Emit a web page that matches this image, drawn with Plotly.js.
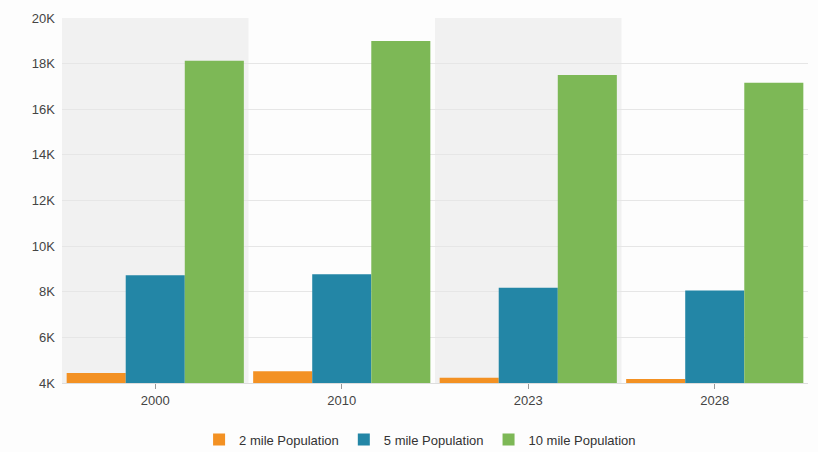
<!DOCTYPE html>
<html><head><meta charset="utf-8">
<script src="https://cdn.plot.ly/plotly-3.0.1.min.js"></script>
<style>html,body{margin:0;padding:0;background:#fdfdfd;}</style>
</head><body>
<div id="chart" style="width:818px;height:452px;"></div>
<script>
const categories = ["2000", "2010", "2023", "2028"];
const pop2mile = [4440, 4510, 4230, 4170];
const pop5mile = [8720, 8770, 8180, 8050];
const pop10mile = [18130, 18990, 17500, 17160];
const seriesNames = ["2 mile Population", "5 mile Population", "10 mile Population"];
const yTickVals = [4000, 6000, 8000, 10000, 12000, 14000, 16000, 18000, 20000];
const yTickText = ["4K", "6K", "8K", "10K", "12K", "14K", "16K", "18K", "20K"];
const colors = ["#F39123", "#2386A6", "#7DB856"];

const vals = [pop2mile, pop5mile, pop10mile];
const traces = vals.map((v, i) => ({
  type: "bar", x: categories, y: v, name: seriesNames[i],
  marker: {color: colors[i], line: {width: 0}},
  hoverinfo: "y+name"
}));

const shapes = categories.map((c, i) => i % 2 === 0 ? ({
  type: "rect", xref: "x", yref: "paper", x0: i - 0.5, x1: i + 0.5, y0: 0, y1: 1,
  fillcolor: "#f1f1f1", line: {width: 0}, layer: "below"
}) : null).filter(Boolean);

const layout = {
  width: 818, height: 452,
  margin: {l: 62, r: 10, t: 18, b: 69, autoexpand: false},
  paper_bgcolor: "#fdfdfd", plot_bgcolor: "#fdfdfd",
  font: {family: "Liberation Sans, Arial, sans-serif", size: 13, color: "#444"},
  barmode: "group", bargap: 0.05, bargroupgap: 0,
  shapes: shapes,
  xaxis: {
    type: "category", range: [-0.5, categories.length - 0.5], automargin: false,
    showgrid: false, showline: true, linecolor: "#dddddd", linewidth: 1,
    ticks: "outside", ticklen: 5, tickcolor: "#999", tickwidth: 1,
    tickfont: {size: 13, color: "#444"}, fixedrange: true
  },
  yaxis: {
    range: [4000, 20000], tickvals: yTickVals, ticktext: yTickText, automargin: false,
    showgrid: true, gridcolor: "#e6e6e6", gridwidth: 1, zeroline: false,
    showline: false, ticks: "", ticklabelstandoff: 6,
    tickfont: {size: 13, color: "#444"}, fixedrange: true
  },
  showlegend: true,
  legend: {
    orientation: "h", x: 0.48, xanchor: "center", y: -0.155, yanchor: "middle",
    font: {size: 13, color: "#333"}, itemwidth: 30, bgcolor: "rgba(0,0,0,0)"
  }
};
Plotly.newPlot("chart", traces, layout, {displayModeBar: false, staticPlot: true});
</script>
</body></html>
